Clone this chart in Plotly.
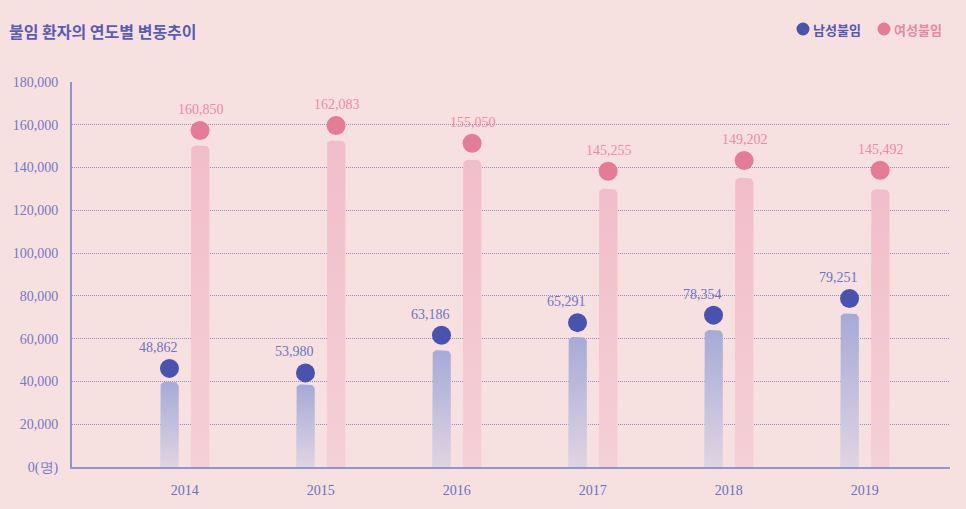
import numpy as np
import plotly.graph_objects as go

# ---------------- data ----------------
years = ["2014", "2015", "2016", "2017", "2018", "2019"]
male_values = [48862, 53980, 63186, 65291, 78354, 79251]        # printed labels
female_values = [160850, 162083, 155050, 145255, 149202, 145492]
male_dot = [46100, 44000, 61600, 67500, 71000, 78800]            # dot heights as drawn
female_dot = [157300, 159700, 151400, 138300, 143300, 138700]
male_bar = [39800, 38600, 54600, 60800, 64000, 71800]            # bar heights as drawn
female_bar = [150300, 152700, 143600, 130100, 135200, 129800]
y_tick_vals = [0, 20000, 40000, 60000, 80000, 100000, 120000, 140000, 160000, 180000]
y_tick_text = ["0(명)", "20,000", "40,000", "60,000", "80,000", "100,000",
               "120,000", "140,000", "160,000", "180,000"]
series_names = ["남성불임", "여성불임"]
title_text = "불임 환자의 연도별 변동추이"

# ---------------- layout geometry ----------------
W, H = 966, 509
ML, MR, MT, MB = 72, 16, 82, 42
PLOT_W = W - ML - MR
PLOT_H = H - MT - MB
XR = [-0.829, 5.626]
YR = [0, 180000]
px_x = PLOT_W / (XR[1] - XR[0])
px_y = PLOT_H / (YR[1] - YR[0])

OFFSET = 15.3 / px_x
HALF_W = 9.3 / px_x
RADIUS = 5

BG = "rgb(247,225,224)"
AXIS_C = "rgb(146,148,210)"
GRID_C = "rgb(146,140,204)"
TICK_C = "rgb(118,120,196)"
MALE_DOT = "rgb(74,82,176)"
FEMALE_DOT = "rgb(228,124,149)"
MALE_TOP, MALE_BOT = "rgb(166,170,216)", "rgb(223,212,225)"
FEMALE_TOP, FEMALE_BOT = "rgb(241,189,202)", "rgb(245,208,214)"
MALE_LBL = "rgb(112,114,192)"
FEMALE_LBL = "rgb(238,138,162)"
SERIF = "Liberation Serif"
KR = "Noto Sans CJK KR"


def bar_outline(xc, top):
    rx = RADIUS / px_x
    ry = RADIUS / px_y
    xl, xr = xc - HALF_W, xc + HALF_W
    xs, ys = [xl, xl], [0, top - ry]
    for a in np.linspace(np.pi, np.pi / 2, 8):
        xs.append(xl + rx + rx * np.cos(a))
        ys.append(top - ry + ry * np.sin(a))
    for a in np.linspace(np.pi / 2, 0, 8):
        xs.append(xr - rx + rx * np.cos(a))
        ys.append(top - ry + ry * np.sin(a))
    xs += [xr, xl]
    ys += [0, 0]
    return xs, ys


fig = go.Figure()

for i in range(len(years)):
    for bars, off, top_c, bot_c in [(male_bar, -OFFSET, MALE_TOP, MALE_BOT),
                                    (female_bar, OFFSET, FEMALE_TOP, FEMALE_BOT)]:
        xs, ys = bar_outline(i + off, bars[i])
        fig.add_trace(go.Scatter(
            x=xs, y=ys, mode="lines", fill="toself",
            line=dict(width=0, color="rgba(0,0,0,0)"),
            fillgradient=dict(type="vertical", start=0, stop=bars[i],
                              colorscale=[[0, bot_c], [1, top_c]]),
            hoverinfo="skip", showlegend=False))

xi = np.arange(len(years))
fig.add_trace(go.Scatter(x=xi - OFFSET, y=male_dot, mode="markers",
                         marker=dict(size=19, color=MALE_DOT, line=dict(width=0)),
                         name=series_names[0], showlegend=False, hoverinfo="skip"))
fig.add_trace(go.Scatter(x=xi + OFFSET, y=female_dot, mode="markers",
                         marker=dict(size=19, color=FEMALE_DOT, line=dict(width=0)),
                         name=series_names[1], showlegend=False, hoverinfo="skip"))

annotations = []
for i in range(len(years)):
    annotations.append(dict(x=i - OFFSET, y=male_dot[i], xref="x", yref="y",
                            text=f"{male_values[i]:,}", showarrow=False,
                            xshift=-11, yshift=21,
                            font=dict(family=SERIF, size=14, color=MALE_LBL)))
    annotations.append(dict(x=i + OFFSET, y=female_dot[i], xref="x", yref="y",
                            text=f"{female_values[i]:,}", showarrow=False,
                            xshift=1, yshift=21,
                            font=dict(family=SERIF, size=14, color=FEMALE_LBL)))


def px_to_paper_x(px):
    return (px - ML) / PLOT_W


def px_to_paper_y(py):
    return (H - MB - py) / PLOT_H


annotations.append(dict(x=px_to_paper_x(7), y=px_to_paper_y(31), xref="paper", yref="paper",
                        xanchor="left", yanchor="middle", showarrow=False,
                        text=f"<b>{title_text}</b>",
                        font=dict(family=KR, size=16, color="rgb(88,92,182)")))

shapes = []
for cx, col, txt, tcol in [(803, MALE_DOT, series_names[0], "rgb(82,86,180)"),
                           (884, FEMALE_DOT, series_names[1], "rgb(232,136,160)")]:
    shapes.append(dict(type="circle", xref="paper", yref="paper",
                       xsizemode="pixel", ysizemode="pixel",
                       xanchor=px_to_paper_x(cx), yanchor=px_to_paper_y(29),
                       x0=-6.5, x1=6.5, y0=-6.5, y1=6.5,
                       fillcolor=col, line=dict(width=0)))
    annotations.append(dict(x=px_to_paper_x(cx + 8), y=px_to_paper_y(30), xref="paper", yref="paper",
                            xanchor="left", yanchor="middle", showarrow=False,
                            text=f"<b>{txt}</b>",
                            font=dict(family=KR, size=13, color=tcol)))

fig.update_layout(
    width=W, height=H,
    margin=dict(l=ML, r=MR, t=MT, b=MB, autoexpand=False),
    paper_bgcolor=BG, plot_bgcolor=BG,
    showlegend=False,
    annotations=annotations,
    shapes=shapes,
    xaxis=dict(range=XR, tickvals=list(range(len(years))), ticktext=years,
               showgrid=False, zeroline=False, showline=True, automargin=False,
               linecolor=AXIS_C, linewidth=2, ticks="", ticklabelstandoff=9,
               tickfont=dict(family=SERIF, size=14, color="rgb(108,112,192)"),
               fixedrange=True),
    yaxis=dict(range=YR, tickvals=y_tick_vals, ticktext=y_tick_text,
               showgrid=True, gridcolor=GRID_C, griddash="1px,1px", gridwidth=1,
               zeroline=False, showline=True, linecolor=AXIS_C, linewidth=2,
               ticks="", ticklabelstandoff=9, automargin=False,
               tickfont=dict(family=SERIF, size=14, color=TICK_C),
               fixedrange=True),
)

fig.write_html("out.html")
